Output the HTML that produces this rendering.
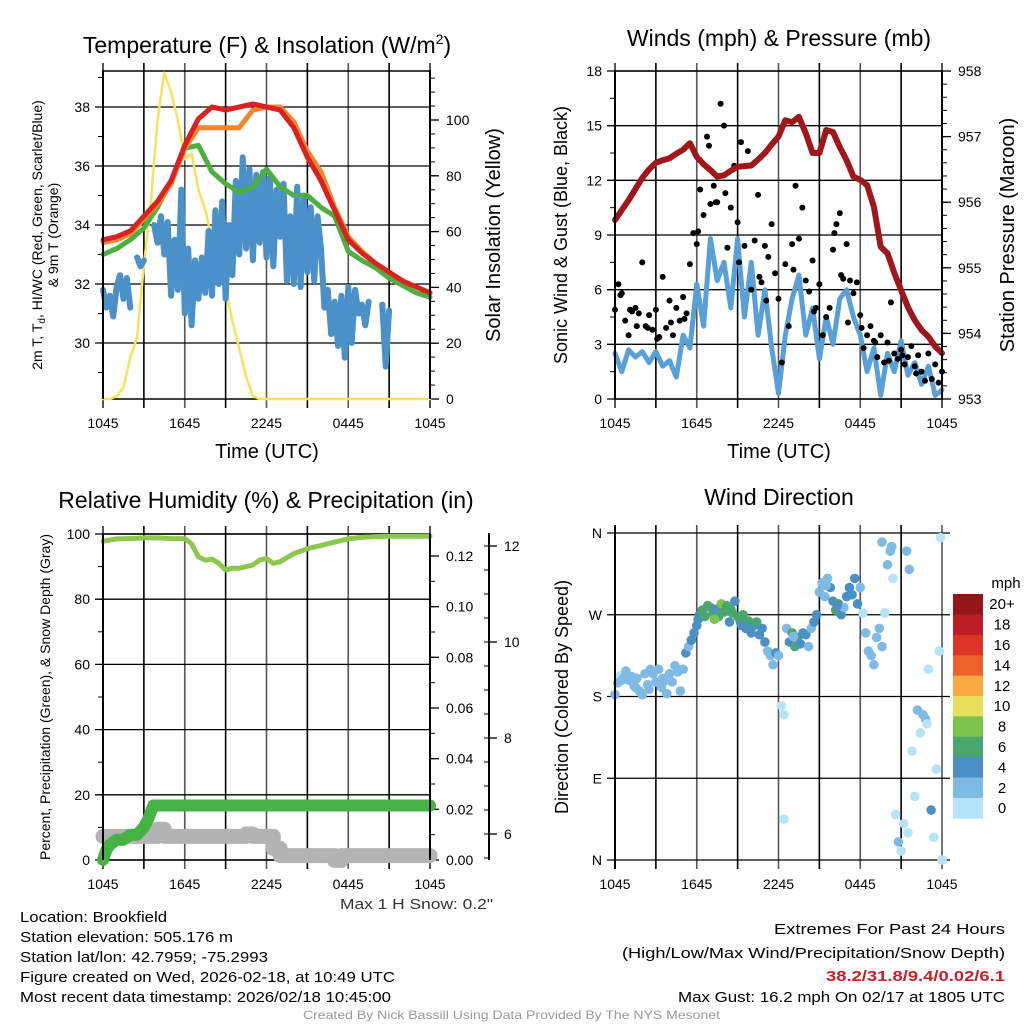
<!DOCTYPE html>
<html><head><meta charset="utf-8"><title>Mesonet Meteogram</title>
<style>
html,body{margin:0;padding:0;background:#fff;}
svg{display:block;font-family:"Liberation Sans",Arial,sans-serif;}
</style></head>
<body>
<svg id="fig" width="1024" height="1024" viewBox="0 0 1024 1024" xmlns="http://www.w3.org/2000/svg">
<rect x="0" y="0" width="1024" height="1024" fill="#fff"/>
<g id="p1"></g>
<g id="p2"></g>
<g id="p3"></g>
<g id="p4"></g>
<g id="txt" font-size="15" fill="#000">
  <text x="267" y="53" font-size="23" text-anchor="middle">Temperature (F) &amp; Insolation (W/m<tspan font-size="14" dy="-9">2</tspan><tspan dy="9">)</tspan></text>
  <text x="779" y="46" font-size="23" text-anchor="middle">Winds (mph) &amp; Pressure (mb)</text>
  <text x="266" y="508" font-size="23" text-anchor="middle">Relative Humidity (%) &amp; Precipitation (in)</text>
  <text x="779" y="505" font-size="23" text-anchor="middle">Wind Direction</text>
  <text x="267" y="458" font-size="20" text-anchor="middle">Time (UTC)</text>
  <text x="779" y="458" font-size="20" text-anchor="middle">Time (UTC)</text>
  <text transform="translate(42,235) rotate(-90)" font-size="14" text-anchor="middle">2m T, T<tspan font-size="10" dy="3">d</tspan><tspan dy="-3">, HI/WC (Red, Green, Scarlet/Blue)</tspan></text>
  <text transform="translate(58,235) rotate(-90)" font-size="14" text-anchor="middle">&amp; 9m T (Orange)</text>
  <text transform="translate(500,235) rotate(-90)" font-size="20" text-anchor="middle">Solar Insolation (Yellow)</text>
  <text transform="translate(567,235) rotate(-90)" font-size="18" text-anchor="middle">Sonic Wind &amp; Gust (Blue, Black)</text>
  <text transform="translate(1014,235) rotate(-90)" font-size="20" text-anchor="middle">Station Pressure (Maroon)</text>
  <text transform="translate(50,697) rotate(-90)" font-size="14" text-anchor="middle">Percent, Precipitation (Green), &amp; Snow Depth (Gray)</text>
  <text transform="translate(568,697) rotate(-90)" font-size="18" text-anchor="middle">Direction (Colored By Speed)</text>
  <text x="340" y="909" textLength="153" lengthAdjust="spacingAndGlyphs" fill="#333">Max 1 H Snow: 0.2"</text>
  <text x="20" y="922" textLength="147" lengthAdjust="spacingAndGlyphs">Location: Brookfield</text>
  <text x="20" y="942" textLength="213" lengthAdjust="spacingAndGlyphs">Station elevation: 505.176 m</text>
  <text x="20" y="962" textLength="248" lengthAdjust="spacingAndGlyphs">Station lat/lon: 42.7959; -75.2993</text>
  <text x="20" y="982" textLength="375" lengthAdjust="spacingAndGlyphs">Figure created on Wed, 2026-02-18, at 10:49 UTC</text>
  <text x="20" y="1002" textLength="371" lengthAdjust="spacingAndGlyphs">Most recent data timestamp: 2026/02/18 10:45:00</text>
  <text x="774" y="934" textLength="231" lengthAdjust="spacingAndGlyphs">Extremes For Past 24 Hours</text>
  <text x="622" y="958" textLength="383" lengthAdjust="spacingAndGlyphs">(High/Low/Max Wind/Precipitation/Snow Depth)</text>
  <text x="826" y="981" textLength="179" lengthAdjust="spacingAndGlyphs" fill="#c8202a" font-weight="bold">38.2/31.8/9.4/0.02/6.1</text>
  <text x="678" y="1002" textLength="327" lengthAdjust="spacingAndGlyphs">Max Gust: 16.2 mph On 02/17 at 1805 UTC</text>
  <text x="303" y="1019" font-size="12" textLength="417" lengthAdjust="spacingAndGlyphs" fill="#999">Created By Nick Bassill Using Data Provided By The NYS Mesonet</text>
</g>
</svg>
<script>
// ---------- DATA ----------
const xTickLabels = ["1045","1645","2245","0445","1045"];
const hourly = [0,1,2,3,4,5,6,7,8,9,10,11,12,13,14,15,16,17,18,19,20,21,22,23,24];
const halfHours = [0,0.5,1,1.5,2,2.5,3,3.5,4,4.5,5,5.5,6,6.5,7,7.5,8,8.5,9,9.5,10,10.5,11,11.5,12,12.5,13,13.5,14,14.5,15,15.5,16,16.5,17,17.5,18,18.5,19,19.5,20,20.5,21,21.5,22,22.5,23,23.5,24];
const tempRed = [33.5,33.6,33.8,34.3,34.8,35.5,36.7,37.6,38.0,37.9,38.0,38.1,38.0,37.9,37.3,36.3,35.5,34.5,33.5,33.05,32.7,32.4,32.1,31.9,31.7];
const tempOrange = [33.4,33.5,33.7,34.2,34.7,35.4,36.6,37.3,37.3,37.3,37.3,37.9,38.0,38.0,37.5,36.5,35.8,34.6,33.6,33.1,32.7,32.4,32.1,31.9,31.7];
const tempGreen = [33.0,33.2,33.5,33.9,34.6,35.5,36.6,36.7,35.8,35.4,35.1,35.3,35.9,35.3,35.0,35.0,34.6,34.3,33.1,32.8,32.55,32.2,31.95,31.7,31.55];
// quarter-hour dewpoint (index * 0.25 h)
const dewBlue = [31.8,31.2,31.6,30.9,31.9,32.3,31.5,32.2,31.2,null,32.9,32.6,32.8,null,null,34.0,33.4,34.3,33.0,34.1,31.6,33.5,31.8,35.2,31.0,33.2,30.6,32.8,31.5,32.9,31.7,33.8,31.6,34.5,32.0,34.8,31.5,34.0,32.3,35.5,33.0,36.3,33.2,35.9,32.8,35.7,33.4,35.8,32.9,35.6,32.6,35.2,33.6,35.4,32.1,34.3,32.0,35.3,31.9,35.0,32.4,34.6,32.1,34.3,33.2,31.2,31.8,30.3,31.4,29.9,31.6,29.5,31.9,30.0,31.8,31.0,31.3,30.6,31.4,null,null,null,31.3,29.2,31.1,null,null,null,null,null,null,null,null,null,null,null,null];
const solar = [0,0,1,4,15,22,48,70,100,117,110,100,86,88,75,68,57,50,39,28,18,8,1,0,0,0,0,0,0,0,0,0,0,0,0,0,0,0,0,0,0,0,0,0,0,0,0,0,0];
const pressure = [955.73,955.88,956.03,956.2,956.37,956.5,956.6,956.64,956.67,956.74,956.8,956.9,956.69,956.58,956.49,956.39,956.41,956.48,956.54,956.55,956.56,956.65,956.75,956.88,957.0,957.25,957.22,957.3,957.05,956.75,956.75,957.1,957.07,956.84,956.64,956.39,956.34,956.26,955.93,955.32,955.22,954.92,954.66,954.4,954.2,954.05,953.95,953.8,953.7];
const windSpeed = [2.5,1.5,2.7,2.3,2.6,2.0,2.6,1.8,2.1,1.2,3.5,2.8,6.3,4.0,8.8,6.5,7.5,5.0,8.8,4.5,7.5,3.5,6.0,2.8,0.3,3.5,5.5,6.8,3.5,5.0,2.2,4.5,3.0,5.5,6.0,4.5,3.5,1.5,2.8,0.2,2.5,1.5,3.2,1.3,2.0,0.8,1.8,0.2,0.5];
const gustT = [0,0.25,0.5,0.75,1,1.25,1.5,1.75,2,2.25,2.5,2.75,3,3.25,3.5,3.75,4,4.25,4.5,4.75,5,5.25,5.5,5.75,6,6.25,6.5,6.75,7,7.25,7.5,7.75,8,8.25,8.5,8.75,9,9.25,9.5,9.75,10,10.25,10.5,10.75,11,11.25,11.5,11.75,12,12.25,12.5,12.75,13,13.25,13.5,13.75,14,14.25,14.5,14.75,15,15.25,15.5,15.75,16,16.25,16.5,16.75,17,17.25,17.5,17.75,18,18.25,18.5,18.75,19,19.25,19.5,19.75,20,20.25,20.5,20.75,21,21.25,21.5,21.75,22,22.25,22.5,22.75,23,23.25,23.5,23.75,24,0.4,1.1,1.6,2.4,3.1,4.1,5.1,6.1,6.9,7.4,8.1,9.1,10.6,11.1,13.1,14.6,16.1,16.6,17.1,18.1,19.1,20.1,21.1,22.1,23.1];
const gustV = [4.9,6.3,5.8,4.3,3.5,4.8,5.0,4.7,7.5,4.0,4.6,3.8,4.9,3.4,6.7,3.9,5.4,3.5,5.0,4.3,5.6,4.7,7.4,9.1,8.5,11.5,10.1,14.4,10.7,11.7,10.8,16.2,15.0,8.3,10.5,12.8,9.7,14.1,8.4,13.6,6.0,8.7,11.2,6.4,8.4,7.8,9.6,6.9,5.5,2.0,7.4,4.0,8.5,11.7,8.8,10.5,6.5,5.9,7.6,5.0,6.3,3.5,4.5,5.0,8.2,9.6,10.2,6.6,8.5,6.5,5.8,6.4,4.6,2.8,3.5,4.0,3.2,2.3,3.5,2.0,3.1,5.3,2.5,2.2,2.7,1.9,2.3,2.9,1.8,2.4,1.5,1.0,2.5,1.1,1.9,0.9,1.5,5.7,4.9,4.0,3.9,3.3,4.2,4.4,9.2,13.9,10.8,11.3,7.5,6.7,5.4,7.1,4.8,9.1,6.8,4.2,3.9,3.1,2.1,2.4,1.4];
const rhT = [0,1,2,3,4,5,6,6.5,7,7.5,8,8.5,9,9.5,10,11,11.5,12,12.5,13,14,15,16,17,18,19,20,21,22,23,24];
const rh = [97.8,98.5,98.6,98.8,98.8,98.6,98.6,97,93,92,92.3,91,89,89.5,89.5,90.5,92,92.5,91,91.5,94,95.5,96.5,97.5,98.5,99,99.2,99.3,99.3,99.3,99.3];
const precipT = [0,0.25,0.5,1,1.5,2,2.5,3,3.3,3.7,24];
const precip = [0,0.004,0.006,0.008,0.008,0.01,0.01,0.013,0.016,0.0215,0.0215];
const snowT = [0,3.5,4,4.5,10,10.5,11,12,12.5,13,16.5,17,17.5,24];
const snow = [5.95,5.95,6.1,5.95,5.95,6.0,5.95,5.95,5.7,5.55,5.55,5.45,5.55,5.55];
const dirT = [0,0.2,0.4,0.6,0.8,1.0,1.2,1.4,1.6,1.8,2.0,2.2,2.4,2.6,2.8,3.0,3.2,3.4,3.6,3.8,4.0,4.2,4.4,4.6,4.8,5.0,5.2,5.4,5.6,5.8,6.0,6.1,6.2,6.4,6.6,6.8,7.0,7.2,7.4,7.6,7.8,8.0,8.2,8.4,8.6,8.8,9.0,9.2,9.4,9.6,9.8,10.0,10.2,10.4,10.6,10.8,11.0,11.2,11.4,11.6,11.8,12.0,12.2,12.4,12.4,12.6,12.8,13.0,13.2,13.4,13.6,13.8,14.0,14.2,14.4,14.6,14.8,15.0,15.2,15.4,15.6,15.8,16.0,16.2,16.4,16.6,16.8,17.0,17.2,17.4,17.6,17.8,18.0,18.2,18.4,18.6,18.8,19.0,19.2,19.4,19.6,19.8,20.0,20.2,20.4,20.6,20.8,21.0,21.2,21.4,21.6,21.8,22.0,22.2,22.4,22.6,22.8,23.0,23.2,23.4,23.6,23.8,24.0,23.9,0.5,1.5,2.5,3.5,6.5,7.3,8.5,9.3,13.1,15.5,16.3,19.6,20.3,21.5,22.9];
const dirDeg = [182,195,203,200,208,198,202,192,200,186,182,205,193,210,205,196,210,190,197,183,205,196,214,207,186,210,228,235,242,250,258,265,270,275,268,280,278,272,276,268,282,273,280,262,272,285,268,262,270,255,263,250,258,262,248,255,240,230,225,215,228,225,170,160,45,255,240,250,235,245,238,250,248,235,255,262,270,295,305,290,310,300,285,275,282,270,278,290,300,292,310,282,300,272,250,230,225,215,245,255,235,272,325,340,310,50,20,10,40,340,320,120,70,165,140,160,155,210,55,25,100,230,0,355,198,190,188,200,270,265,276,258,246,302,280,350,345,30,150];
const dirSpd = [3,2,1,3,2,3,2,3,2,3,2,3,2,3,2,3,2,3,2,3,2,3,2,3,2,3,4,3,4,4,5,4,5,6,7,6,6,7,5,6,8,6,7,4,6,4,6,7,6,4,7,4,5,6,4,4,4,3,3,2,4,3,1,1,1,3,4,6,6,7,5,4,4,2,3,4,4,2,2,3,2,4,5,6,7,4,3,4,4,4,4,4,3,1,2,2,2,2,2,2,3,1,2,2,1,1,2,1,1,2,2,1,1,3,1,3,3,1,4,1,1,1,1,0,2,3,2,3,7,8,6,5,3,3,4,2,2,1,1];
const binColors = ["#b5e3f8","#7fbae4","#4a8fc6","#4aa66f","#7cc34b","#e8e05a","#f7a944","#ef622b","#dd3428","#bd1c25","#93151a"];
const binLabels = ["0","2","4","6","8","10","12","14","16","18","20+"];
const tempTicks = [30,32,34,36,38];
const solarTicks = [0,20,40,60,80,100];
const windTicks = [0,3,6,9,12,15,18];
const pressTicks = [953,954,955,956,957,958];
const rhTicks = [0,20,40,60,80,100];
const precipTicks = [0,0.02,0.04,0.06,0.08,0.10,0.12];
const snowTicks = [6,8,10,12];
const dirTicks = ["N","E","S","W","N"];

// ---------- HELPERS ----------
const NS="http://www.w3.org/2000/svg";
function el(parent,tag,attrs){const e=document.createElementNS(NS,tag);for(const k in attrs)e.setAttribute(k,attrs[k]);parent.appendChild(e);return e;}
function lin(d0,d1,r0,r1){return v=>r0+(v-d0)*(r1-r0)/(d1-d0);}
function pathD(ts,vs,xs,ys){let d="",pen=false;for(let i=0;i<vs.length;i++){if(vs[i]==null||ts[i]==null){pen=false;continue;}d+=(pen?"L":"M")+xs(ts[i]).toFixed(1)+" "+ys(vs[i]).toFixed(1);pen=true;}return d;}
function stepD(ts,vs,xs,ys){let d="";for(let i=0;i<ts.length;i++){const x=xs(ts[i]).toFixed(1),y=ys(vs[i]).toFixed(1);if(i==0)d+="M"+x+" "+y;else{d+="H"+x+"V"+y;}}return d;}

function frame(g,X0,X1,Y0,Y1,name){
  for(let k=0;k<=8;k++){const x=X0+(X1-X0)*k/8;
    const ln=el(g,"line",{x1:x,x2:x,y1:Y0-8,y2:Y1+9,stroke:(k%2?"#000":"#555"),"stroke-width":k==0||k==8?2:1.6});
    
    
  }
  for(let k=0;k<5;k++){const t=el(g,"text",{x:X0+(X1-X0)*k/4,y:Y1+29,"font-size":14,"text-anchor":"middle"});t.textContent=xTickLabels[k];
    
    }
  const r=el(g,"line",{x1:X0-1,x2:X1+1,y1:Y0,y2:Y0,stroke:"#000","stroke-width":1.6});
  
  
  const b=el(g,"line",{x1:X0-1,x2:X1+1,y1:Y1,y2:Y1,stroke:"#000","stroke-width":1.6});
  
  
}
function hgrid(g,X0,X1,ticks,ys,labels,side){
  ticks.forEach((v,i)=>{const y=ys(v);
    const ln=el(g,"line",{x1:X0-8,x2:X1+(side?8:0),y1:y,y2:y,stroke:"#000","stroke-width":1.3});
    
    
    const t=el(g,"text",{x:X0-13,y:y+5,"font-size":14,"text-anchor":"end"});t.textContent=labels?labels[i]:v;
    
    });
}
function rightAxis(g,X,ticks,ys,fmt,minorStep,lo,hi){
  for(let v=lo;v<=hi+1e-9;v+=minorStep){const y=ys(v);const m=el(g,"line",{x1:X,x2:X+5,y1:y,y2:y,stroke:"#000","stroke-width":1});
    
    }
  ticks.forEach(v=>{const y=ys(v);const m=el(g,"line",{x1:X,x2:X+9,y1:y,y2:y,stroke:"#000","stroke-width":1.3});
    
    
    const t=el(g,"text",{x:X+16,y:y+5,"font-size":14});t.textContent=fmt(v);
    
    });
}
function leftMinor(g,X,ys,lo,hi,step){for(let v=lo;v<=hi+1e-9;v+=step){const y=ys(v);const m=el(g,"line",{x1:X-5,x2:X,y1:y,y2:y,stroke:"#000","stroke-width":1});
  
  }}
function vline(g,X,Y0,Y1,name){const l=el(g,"line",{x1:X,x2:X,y1:Y0,y2:Y1,stroke:"#000","stroke-width":2});
  
  }
function series(g,d,color,w,name,cap){const p=el(g,"path",{d:d,fill:"none",stroke:color,"stroke-width":w,"stroke-linejoin":"round","stroke-linecap":cap||"round"});
  
  return p;}

// ---------- PANEL 1 ----------
(function(){
  const g=document.getElementById("p1");
  const X0=103,X1=430,Y0=71,Y1=399;
  const xs=lin(0,24,X0,X1), ys=lin(30,38,343,107), yr=lin(0,100,399,120);
  const xq=i=>xs(i*0.25);
  frame(g,X0,X1,Y0,Y1,"temp");
  hgrid(g,X0,X1,tempTicks,ys);
  leftMinor(g,X0,ys,29,39,1);
  rightAxis(g,X1,solarTicks,yr,v=>v,5,0,115);
  series(g,pathD(halfHours,solar,xs,yr),"#f9e15c",2.5,"solar-line");
  const qIdx=dewBlue.map((v,i)=>i);
  series(g,pathD(qIdx,dewBlue,xq,ys),"#4a90c9",6,"dewpoint-line");
  series(g,pathD(hourly,tempGreen,xs,ys),"#4caf3f",5,"heat-index-line");
  series(g,pathD(hourly,tempOrange,xs,ys),"#f4852f",5,"9m-temp-line");
  series(g,pathD(hourly,tempRed,xs,ys),"#d9211f",5,"2m-temp-line");
  vline(g,X0,Y0,Y1,"temp-left-axis");vline(g,X1,Y0,Y1,"temp-right-axis");
})();

// ---------- PANEL 2 ----------
(function(){
  const g=document.getElementById("p2");
  const X0=615,X1=942,Y0=71,Y1=399;
  const xs=lin(0,24,X0,X1), ys=lin(0,18,399,71), yp=lin(953,958,399,71);
  frame(g,X0,X1,Y0,Y1,"wind");
  hgrid(g,X0,X1,windTicks,ys);
  leftMinor(g,X0,ys,0,18,1.5);
  rightAxis(g,X1,pressTicks,yp,v=>v,0.2,953,958);
  series(g,pathD(halfHours,windSpeed,xs,ys),"#5aa0d8",5,"sonic-wind-line");
  const n=Math.min(gustT.length,gustV.length);
  for(let i=0;i<n;i++){const c=el(g,"circle",{cx:xs(gustT[i]),cy:ys(gustV[i]),r:3,fill:"#000"});
    
    }
  series(g,pathD(halfHours,pressure,xs,yp),"#a0161b",6,"pressure-line");
  vline(g,X0,Y0,Y1,"wind-left-axis");vline(g,X1,Y0,Y1,"wind-right-axis");
})();

// ---------- PANEL 3 ----------
(function(){
  const g=document.getElementById("p3");
  const X0=103,X1=430,Y0=534,Y1=860;
  const xs=lin(0,24,X0,X1), ys=lin(0,100,860,534), yp=lin(0,0.12,860,556), ysn=lin(6,12,834,546);
  frame(g,X0,X1,Y0,Y1,"rh");
  hgrid(g,X0,X1,rhTicks,ys);
  leftMinor(g,X0,ys,0,100,10);
  rightAxis(g,X1,precipTicks,yp,v=>v.toFixed(2),0.01,0,0.128);
  vline(g,489,533,860,"snow-axis");
  for(let v=5.5;v<=12.01;v+=0.5){const y=ysn(v);const m=el(g,"line",{x1:484,x2:489,y1:y,y2:y,stroke:"#000","stroke-width":1});
    
    }
  snowTicks.forEach(v=>{const y=ysn(v);const m=el(g,"line",{x1:489,x2:497,y1:y,y2:y,stroke:"#000","stroke-width":1.3});
    
    
    const t=el(g,"text",{x:504,y:y+5,"font-size":14});t.textContent=v;
    
    });
  series(g,stepD(snowT,snow,xs,ysn),"#b3b3b3",15,"snow-depth-line");
  series(g,pathD(precipT,precip,xs,yp),"#45b245",12,"precip-line");
  series(g,pathD(rhT,rh,xs,ys),"#8cc84b",5,"rh-line");
  vline(g,X0,Y0,Y1,"rh-left-axis");vline(g,X1,Y0,Y1,"rh-right-axis");
})();

// ---------- PANEL 4 ----------
(function(){
  const g=document.getElementById("p4");
  const X0=615,X1=942,Y0=533,Y1=860;
  const xs=lin(0,24,X0,X1), yd=lin(0,360,860,533);
  for(let k=0;k<=8;k++){const x=X0+(X1-X0)*k/8;
    const ln=el(g,"line",{x1:x,x2:x,y1:Y0-8,y2:Y1+9,stroke:(k%2?"#000":"#555"),"stroke-width":k==0?2:1.6});
    
    }
  for(let k=0;k<5;k++){const t=el(g,"text",{x:X0+(X1-X0)*k/4,y:Y1+29,"font-size":14,"text-anchor":"middle"});t.textContent=xTickLabels[k];
    
    }
  dirTicks.forEach((lab,i)=>{const y=yd(i*90);
    const ln=el(g,"line",{x1:X0-8,x2:X1+8,y1:y,y2:y,stroke:"#000","stroke-width":1.3});
    
    
    const t=el(g,"text",{x:X0-13,y:y+5,"font-size":14,"text-anchor":"end"});t.textContent=lab;
    
    });
  const n=Math.min(dirT.length,dirDeg.length,dirSpd.length);
  for(let i=0;i<n;i++){const b=Math.min(10,Math.floor(dirSpd[i]/2));
    const c=el(g,"circle",{cx:xs(dirT[i]),cy:yd(dirDeg[i]),r:4.8,fill:binColors[b]});
    
    }
  vline(g,X0,Y0-8,Y1+9,"direction-left-axis");
  const top=594,h=20.4;
  for(let i=0;i<11;i++){const j=10-i;
    const r=el(g,"rect",{x:953,y:top+i*h,width:30,height:h+0.3,fill:binColors[j]});
    
    
    const t=el(g,"text",{x:1002,y:top+i*h+h/2+5,"font-size":15,"text-anchor":"middle"});t.textContent=binLabels[j];
    
    }
  const m=el(g,"text",{x:1006,y:588,"font-size":15,"text-anchor":"middle"});m.textContent="mph";
  
  
})();
</script>
</body></html>
